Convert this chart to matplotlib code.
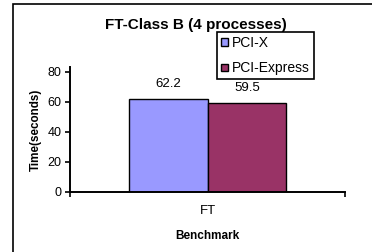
import matplotlib
matplotlib.use("Agg")
import matplotlib.pyplot as plt
from matplotlib.patches import Rectangle
import numpy as np

plt.rcParams['font.family'] = ['Liberation Sans', 'DejaVu Sans']

categories = ["FT"]
series_names = ["PCI-X", "PCI-Express"]
values = {"PCI-X": [62.2], "PCI-Express": [59.5]}
colors = {"PCI-X": "#9999FF", "PCI-Express": "#993366"}
yticks = [0, 20, 40, 60, 80]

W, H = 372, 252
fig = plt.figure(figsize=(W / 100, H / 100), dpi=100)

# outer chart-area border (cropped on right and bottom)
fig.patches.append(Rectangle((13 / W, -0.2), 1.2, 1 - 4 / H + 0.2, transform=fig.transFigure,
                             fill=False, edgecolor='black', linewidth=1.2, clip_on=False))

ax = fig.add_axes([70 / W, (H - 192) / H, (345 - 70) / W, (192 - 66.7) / H])
x = np.arange(len(categories))
bw = 0.287
for i, name in enumerate(series_names):
    offs = (i - 0.5) * bw
    bars = ax.bar(x + offs, values[name], width=bw, color=colors[name],
                  edgecolor='black', linewidth=1.0, label=name)
    ax.bar_label(bars, labels=[f"{v:.1f}" for v in values[name]], padding=6, fontsize=9.5)

ax.set_xlim(-0.5, 0.5)
ax.set_ylim(0, 83.5)
ax.set_yticks(yticks)
ax.set_yticklabels([str(t) for t in yticks], fontsize=9)
ax.set_xticks([-0.5, 0.5], minor=False)
ax.set_xticklabels(["", ""])
ax.set_xticks([0], minor=True)
ax.set_xticklabels(categories, minor=True, fontsize=9.5)
ax.tick_params(axis='x', which='minor', length=0, pad=9)
ax.tick_params(axis='x', which='major', length=3.5, width=1.2, direction='out')
ax.tick_params(axis='y', length=3.8, width=1.2, direction='out', pad=2.5)
for s in ['top', 'right']:
    ax.spines[s].set_visible(False)
for s in ['left', 'bottom']:
    ax.spines[s].set_linewidth(1.4)

ax.set_xlabel("Benchmark", fontsize=8.5, fontweight='bold', labelpad=10)
ax.set_ylabel("Time(seconds)", fontsize=8.4, fontweight='bold', labelpad=4)

fig.text(195.5 / W, 1 - 25 / H, "FT-Class B (4 processes)", ha='center', va='center',
         fontsize=11, fontweight='bold')

leg = fig.legend(loc='upper left', bbox_to_anchor=(217 / W, 1 - 32 / H),
                 bbox_transform=fig.transFigure, borderaxespad=0, fontsize=10,
                 handlelength=0.5, handleheight=0.45, handletextpad=0.25,
                 labelspacing=0.8, borderpad=0.3, fancybox=False, framealpha=1)
leg.get_frame().set_edgecolor('black')
leg.get_frame().set_linewidth(1.2)

fig.savefig("out.png", dpi=100)
